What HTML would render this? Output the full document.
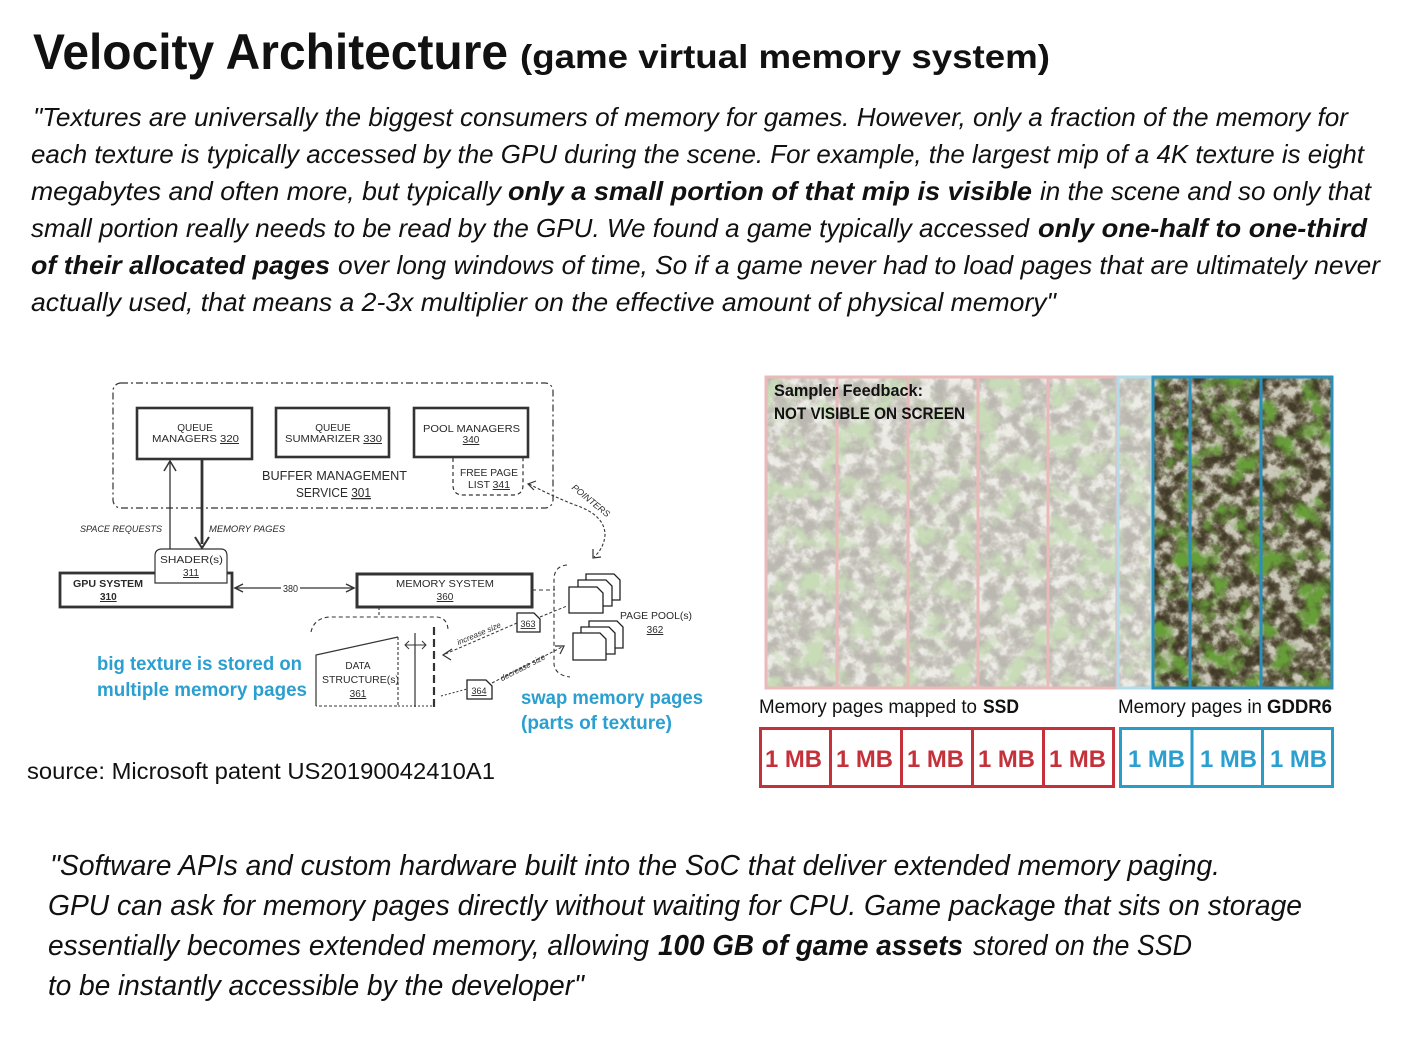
<!DOCTYPE html>
<html><head><meta charset="utf-8"><style>
html,body{margin:0;padding:0;background:#fff;}
svg{display:block;}
text{font-family:"Liberation Sans",sans-serif;}
.p{font-size:26px;font-style:italic;fill:#111;}
.q{font-size:29px;font-style:italic;fill:#111;}
.b{font-weight:bold;}
.d{font-size:10px;fill:#2a2a2a;}
.bl{font-size:19px;font-weight:bold;fill:#2a9fd0;}
.mb{font-size:24px;font-weight:bold;}
</style></head><body>
<svg xmlns="http://www.w3.org/2000/svg" width="1408" height="1038" viewBox="0 0 1408 1038">
<defs>
<filter id="tex" filterUnits="userSpaceOnUse" x="765" y="376" width="568" height="313" color-interpolation-filters="sRGB">
 <feTurbulence type="fractalNoise" baseFrequency="0.075" numOctaves="4" seed="7" result="n"/>
 <feColorMatrix in="n" type="matrix" values="2.6 0 0 0 -0.8  2.6 0 0 0 -0.8  2.6 0 0 0 -0.8  0 0 0 0 1" result="g"/>
 <feComponentTransfer in="g" result="base">
  <feFuncR type="table" tableValues="0.26 0.34 0.46 0.66 0.80"/>
  <feFuncG type="table" tableValues="0.23 0.31 0.43 0.64 0.79"/>
  <feFuncB type="table" tableValues="0.16 0.23 0.35 0.57 0.74"/>
 </feComponentTransfer>
 <feTurbulence type="fractalNoise" baseFrequency="0.04" numOctaves="4" seed="21" result="m"/>
 <feColorMatrix in="m" type="matrix" values="0 0 0 0 0.40  0 0 0 0 0.62  0 0 0 0 0.22  4 0 0 0 -1.95" result="green"/>
 <feComposite in="green" in2="base" operator="over"/>
</filter>
</defs>
<rect width="1408" height="1038" fill="#fff"/>

<!-- Title -->
<text x="33" y="69" font-size="50" class="b" fill="#111" textLength="475" lengthAdjust="spacingAndGlyphs">Velocity Architecture</text>
<text x="520" y="68" font-size="33" class="b" fill="#111" textLength="530" lengthAdjust="spacingAndGlyphs">(game virtual memory system)</text>

<!-- Paragraph -->
<text class="p" x="33" y="126" textLength="1315" lengthAdjust="spacingAndGlyphs">"Textures are universally the biggest consumers of memory for games. However, only a fraction of the memory for</text>
<text class="p" x="31" y="163" textLength="1333" lengthAdjust="spacingAndGlyphs">each texture is typically accessed by the GPU during the scene. For example, the largest mip of a 4K texture is eight</text>
<text class="p" x="31" y="200" textLength="470" lengthAdjust="spacingAndGlyphs">megabytes and often more, but typically</text>
<text class="p b" x="508" y="200" textLength="524" lengthAdjust="spacingAndGlyphs">only a small portion of that mip is visible</text>
<text class="p" x="1040" y="200" textLength="331" lengthAdjust="spacingAndGlyphs">in the scene and so only that</text>
<text class="p" x="31" y="237" textLength="998" lengthAdjust="spacingAndGlyphs">small portion really needs to be read by the GPU. We found a game typically accessed</text>
<text class="p b" x="1038" y="237" textLength="329" lengthAdjust="spacingAndGlyphs">only one-half to one-third</text>
<text class="p b" x="31" y="274" textLength="299" lengthAdjust="spacingAndGlyphs">of their allocated pages</text>
<text class="p" x="338" y="274" textLength="1042" lengthAdjust="spacingAndGlyphs">over long windows of time, So if a game never had to load pages that are ultimately never</text>
<text class="p" x="31" y="311" textLength="1025" lengthAdjust="spacingAndGlyphs">actually used, that means a 2-3x multiplier on the effective amount of physical memory"</text>

<!-- ============ Patent diagram ============ -->
<g fill="none" stroke="#333">
 <rect x="113" y="383" width="440" height="125" rx="8" stroke-width="1.2" stroke-dasharray="7 3 2 3"/>
 <rect x="137" y="408" width="115" height="51" stroke-width="2.6"/>
 <rect x="276" y="408" width="113" height="49" stroke-width="2.6"/>
 <rect x="414" y="408" width="114" height="49" stroke-width="2.6"/>
 <path d="M453,458 V485 Q453,495 463,495 H513 Q523,495 523,485 V458" stroke-width="1.2" stroke-dasharray="4 3"/>
 <path d="M170,549 V462" stroke-width="1.3"/>
 <path d="M164,471 L170,461 L176,471" stroke-width="1.5"/>
 <path d="M202,460 V544" stroke-width="2.8"/>
 <path d="M195,537 L202,548 L209,537" stroke-width="2"/>
 <rect x="60" y="573" width="172" height="34" stroke-width="2.8"/>
 <rect x="357" y="574" width="175" height="33" stroke-width="3"/>
 <path d="M235,588 H354" stroke-width="1.2"/>
 <path d="M243,584 L235,588 L243,592" stroke-width="1.5"/>
 <path d="M346,584 L354,588 L346,592" stroke-width="1.5"/>
 <path d="M532,590 H555" stroke-width="1.1" stroke-dasharray="4 3"/>
 <path d="M567,565 Q555,566 554,578 V664 Q555,675 570,677" stroke-width="1.1" stroke-dasharray="4 3"/>
 <path d="M529,484 Q550,495 575,505 Q605,515 605,535 Q604,548 594,557" stroke-width="1.1" stroke-dasharray="3 2"/>
 <path d="M536,481 L528,484 L534,490" stroke-width="1.2"/>
 <path d="M593,549 L593,558 L601,557" stroke-width="1.2"/>
 <path d="M379,607 V617" stroke-width="1.1" stroke-dasharray="3 2"/>
 <path d="M311,632 Q314,618 330,617 H437 Q447,618 448,629" stroke-width="1.1" stroke-dasharray="4 3"/>
 <path d="M316,706 V655 L398,637" stroke-width="1.2"/>
 <path d="M398,637 V706 H316" stroke-width="1.1" stroke-dasharray="3 2"/>
 <path d="M398,706 H434" stroke-width="1.1" stroke-dasharray="2 2"/>
 <path d="M415,633 V707" stroke-width="1.2"/>
 <path d="M434,627 V707" stroke-width="2.2" stroke-dasharray="8 4"/>
 <path d="M405,645 H426" stroke-width="1"/>
 <path d="M409,641 L405,645 L409,649 M422,641 L426,645 L422,649" stroke-width="1"/>
 <path d="M517,623 L443,655" stroke-width="1" stroke-dasharray="3 2"/>
 <path d="M452,649 L443,655 L451,660" stroke-width="1.2"/>
 <path d="M540,617 L567,606" stroke-width="1" stroke-dasharray="3 2"/>
 <path d="M441,696 L467,689" stroke-width="1" stroke-dasharray="2 2"/>
 <path d="M492,683 L564,646" stroke-width="1" stroke-dasharray="3 2"/>
 <path d="M555,646 L564,646 L560,654" stroke-width="1.2"/>
</g>
<path d="M155,583 V556 Q155,549 162,549 H221 Q227,549 227,556 V583 H162 Q155,583 155,583 Z" fill="#fff" stroke="#333" stroke-width="1.2"/>
<rect x="281" y="582" width="19" height="12" fill="#fff"/>
<g fill="#fff" stroke="#222" stroke-width="1.3">
 <path d="M586,574 H614 L620,580 V600 H586 Z"/>
 <path d="M578,580 H606 L612,586 V606 H578 Z"/>
 <path d="M569,587 H597 L603,593 V613 H569 Z"/>
 <path d="M589,621 H617 L623,627 V648 H589 Z"/>
 <path d="M581,627 H609 L615,633 V654 H581 Z"/>
 <path d="M573,633 H600 L606,639 V660 H573 Z"/>
 <path d="M517,613 H534 L540,619 V632 H517 Z"/>
 <path d="M467,680 H486 L492,686 V699 H467 Z"/>
</g>
<g class="d">
 <text x="195" y="431" text-anchor="middle">QUEUE</text>
 <text x="152" y="442" textLength="87" lengthAdjust="spacingAndGlyphs">MANAGERS <tspan text-decoration="underline">320</tspan></text>
 <text x="333" y="431" text-anchor="middle">QUEUE</text>
 <text x="285" y="442" textLength="97" lengthAdjust="spacingAndGlyphs">SUMMARIZER <tspan text-decoration="underline">330</tspan></text>
 <text x="423" y="432" textLength="97" lengthAdjust="spacingAndGlyphs">POOL MANAGERS</text>
 <text x="471" y="443" text-anchor="middle" text-decoration="underline">340</text>
 <text x="460" y="476" textLength="58" lengthAdjust="spacingAndGlyphs">FREE PAGE</text>
 <text x="468" y="488" textLength="42" lengthAdjust="spacingAndGlyphs">LIST <tspan text-decoration="underline">341</tspan></text>
 <text x="262" y="480" font-size="12.5" textLength="145" lengthAdjust="spacingAndGlyphs">BUFFER MANAGEMENT</text>
 <text x="296" y="497" font-size="12.5" textLength="75" lengthAdjust="spacingAndGlyphs">SERVICE <tspan text-decoration="underline">301</tspan></text>
 <text x="80" y="532" font-size="9" font-style="italic" textLength="82" lengthAdjust="spacingAndGlyphs">SPACE REQUESTS</text>
 <text x="209" y="532" font-size="9" font-style="italic" textLength="76" lengthAdjust="spacingAndGlyphs">MEMORY PAGES</text>
 <text x="160" y="563" textLength="63" lengthAdjust="spacingAndGlyphs">SHADER(s)</text>
 <text x="191" y="576" text-anchor="middle" text-decoration="underline">311</text>
 <text x="73" y="587" font-weight="bold" textLength="70" lengthAdjust="spacingAndGlyphs">GPU SYSTEM</text>
 <text x="100" y="600" text-decoration="underline" font-weight="bold">310</text>
 <text x="283" y="592" textLength="15" lengthAdjust="spacingAndGlyphs">380</text>
 <text x="396" y="587" textLength="98" lengthAdjust="spacingAndGlyphs">MEMORY SYSTEM</text>
 <text x="445" y="600" text-anchor="middle" text-decoration="underline">360</text>
 <text x="620" y="619" textLength="72" lengthAdjust="spacingAndGlyphs">PAGE POOL(s)</text>
 <text x="655" y="633" text-anchor="middle" text-decoration="underline">362</text>
 <text x="358" y="669" text-anchor="middle">DATA</text>
 <text x="322" y="683" textLength="77" lengthAdjust="spacingAndGlyphs">STRUCTURE(s)</text>
 <text x="358" y="697" text-anchor="middle" text-decoration="underline">361</text>
 <text x="528" y="627" text-anchor="middle" font-size="9" text-decoration="underline">363</text>
 <text x="479" y="694" text-anchor="middle" font-size="9" text-decoration="underline">364</text>
 <text transform="translate(480,636) rotate(-23)" text-anchor="middle" font-size="8" font-style="italic">increase size</text>
 <text transform="translate(524,670) rotate(-27)" text-anchor="middle" font-size="8" font-style="italic">decrease size</text>
 <text transform="translate(589,503) rotate(39)" text-anchor="middle" font-size="9" font-style="italic">POINTERS</text>
</g>

<text class="bl" x="97" y="670" textLength="205" lengthAdjust="spacingAndGlyphs">big texture is stored on</text>
<text class="bl" x="97" y="696" textLength="210" lengthAdjust="spacingAndGlyphs">multiple memory pages</text>
<text class="bl" x="521" y="704" textLength="182" lengthAdjust="spacingAndGlyphs">swap memory pages</text>
<text class="bl" x="521" y="729" textLength="151" lengthAdjust="spacingAndGlyphs">(parts of texture)</text>

<text x="27" y="779" font-size="23" fill="#111" textLength="468" lengthAdjust="spacingAndGlyphs">source: Microsoft patent  US20190042410A1</text>

<!-- ============ Texture ============ -->
<rect x="765" y="376" width="568" height="313" filter="url(#tex)"/>
<rect x="764" y="375" width="389" height="315" fill="#fff" opacity="0.64"/>
<g fill="none" stroke-width="3">
 <rect x="766" y="377" width="351" height="311" stroke="#eab9b9"/>
 <path d="M837,377 V688 M908,377 V688 M978,377 V688 M1048,377 V688" stroke="#eab9b9"/>
 <rect x="1118" y="377" width="34" height="311" stroke="#b3dcea"/>
 <rect x="1153" y="377" width="179" height="311" stroke="#2a8fba"/>
 <path d="M1190,377 V688 M1261,377 V688" stroke="#2a8fba"/>
</g>
<text x="774" y="396" font-size="16.5" class="b" fill="#111" textLength="149" lengthAdjust="spacingAndGlyphs">Sampler Feedback:</text>
<text x="774" y="419" font-size="16.5" class="b" fill="#111" textLength="191" lengthAdjust="spacingAndGlyphs">NOT VISIBLE ON SCREEN</text>

<text x="759" y="713" font-size="19" fill="#111" textLength="218" lengthAdjust="spacingAndGlyphs">Memory pages mapped to</text>
<text x="983" y="713" font-size="19" class="b" fill="#111" textLength="36" lengthAdjust="spacingAndGlyphs">SSD</text>
<text x="1118" y="713" font-size="19" fill="#111" textLength="144" lengthAdjust="spacingAndGlyphs">Memory pages in</text>
<text x="1267" y="713" font-size="19" class="b" fill="#111" textLength="65" lengthAdjust="spacingAndGlyphs">GDDR6</text>

<g fill="none" stroke-width="3">
 <rect x="760.5" y="728.5" width="353" height="58" stroke="#c4313b"/>
 <path d="M830.5,728 V787 M901.5,728 V787 M972.5,728 V787 M1043.5,728 V787" stroke="#c4313b"/>
 <rect x="1120.5" y="728.5" width="212" height="58" stroke="#2a9cc8"/>
 <path d="M1192,728 V787 M1262.5,728 V787" stroke="#2a9cc8"/>
</g>
<g class="mb" fill="#c4313b">
 <text x="765" y="767" textLength="57" lengthAdjust="spacingAndGlyphs">1 MB</text>
 <text x="836" y="767" textLength="57" lengthAdjust="spacingAndGlyphs">1 MB</text>
 <text x="907" y="767" textLength="57" lengthAdjust="spacingAndGlyphs">1 MB</text>
 <text x="978" y="767" textLength="57" lengthAdjust="spacingAndGlyphs">1 MB</text>
 <text x="1049" y="767" textLength="57" lengthAdjust="spacingAndGlyphs">1 MB</text>
</g>
<g class="mb" fill="#2a9fd0">
 <text x="1128" y="767" textLength="57" lengthAdjust="spacingAndGlyphs">1 MB</text>
 <text x="1200" y="767" textLength="57" lengthAdjust="spacingAndGlyphs">1 MB</text>
 <text x="1270" y="767" textLength="57" lengthAdjust="spacingAndGlyphs">1 MB</text>
</g>

<text class="q" x="50" y="875" textLength="1170" lengthAdjust="spacingAndGlyphs">"Software APIs and custom hardware built into the SoC that deliver extended memory paging.</text>
<text class="q" x="48" y="915" textLength="1254" lengthAdjust="spacingAndGlyphs">GPU can ask for memory pages directly without waiting for CPU. Game package that sits on storage</text>
<text class="q" x="48" y="955" textLength="601" lengthAdjust="spacingAndGlyphs">essentially becomes extended memory, allowing</text>
<text class="q b" x="658" y="955" textLength="305" lengthAdjust="spacingAndGlyphs">100 GB of game assets</text>
<text class="q" x="973" y="955" textLength="219" lengthAdjust="spacingAndGlyphs">stored on the SSD</text>
<text class="q" x="48" y="995" textLength="536" lengthAdjust="spacingAndGlyphs">to be instantly accessible by the developer"</text>
</svg>
</body></html>
